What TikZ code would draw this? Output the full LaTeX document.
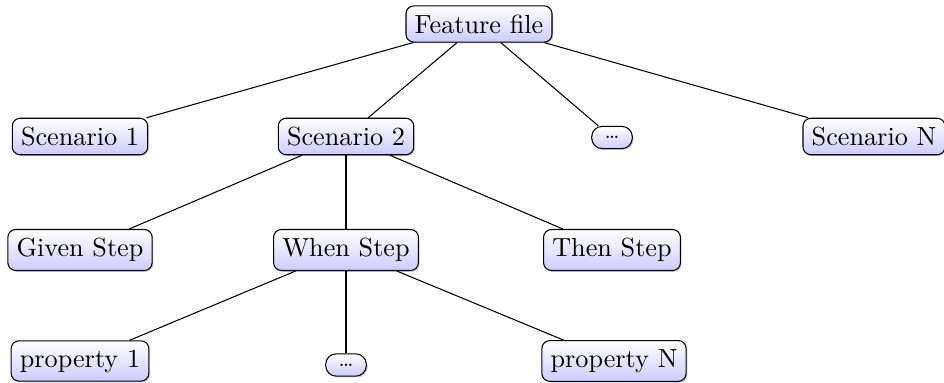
\documentclass[tikz,border=0pt]{standalone}
\usetikzlibrary{shadows}

\tikzset{
  treenode/.style={
    draw=black, rounded corners=3pt,
    top color=white, bottom color=blue!20,
    drop shadow={shadow xshift=0.5pt, shadow yshift=-0.5pt, fill=black!40, opacity=0.5},
    inner sep=3.333pt, font=\normalsize
  },
  dotsnode/.style={treenode, font=\footnotesize, rounded corners=4pt,
    minimum width=15.5pt, minimum height=8.5pt},
  branch/.style={draw=black, line width=0.4pt}
}

\begin{document}
\begin{tikzpicture}[x=0.3817pt, y=-0.3817pt]
  \useasboundingbox (0,0) rectangle (944,383);

  % root
  \node[treenode] (feature) at (479,24) {Feature file};

  % scenarios
  \node[treenode] (sc1)  at (80,136.5)  {Scenario 1};
  \node[treenode] (sc2)  at (346,136.5) {Scenario 2};
  \node[dotsnode] (scd)  at (612,137.5) {\ldots};
  \node[treenode] (scN)  at (874,136.5) {Scenario N};

  % steps of scenario 2
  \node[treenode] (given) at (80,250)  {Given Step};
  \node[treenode] (when)  at (346,250) {When Step};
  \node[treenode] (then)  at (612,250) {Then Step};

  % properties of the when step
  \node[treenode] (prop1) at (80,361)  {property 1};
  \node[dotsnode] (propd) at (346,365) {\ldots};
  \node[treenode] (propN) at (614,361) {property N};

  % connectors
  \draw[branch] (feature) -- (sc1);
  \draw[branch] (feature) -- (sc2);
  \draw[branch] (feature) -- (scd);
  \draw[branch] (feature) -- (scN);

  \draw[branch] (sc2) -- (given);
  \draw[branch] (sc2) -- (when);
  \draw[branch] (sc2) -- (then);

  \draw[branch] (when) -- (prop1);
  \draw[branch] (when) -- (propd);
  \draw[branch] (when) -- (propN);
\end{tikzpicture}
\end{document}
